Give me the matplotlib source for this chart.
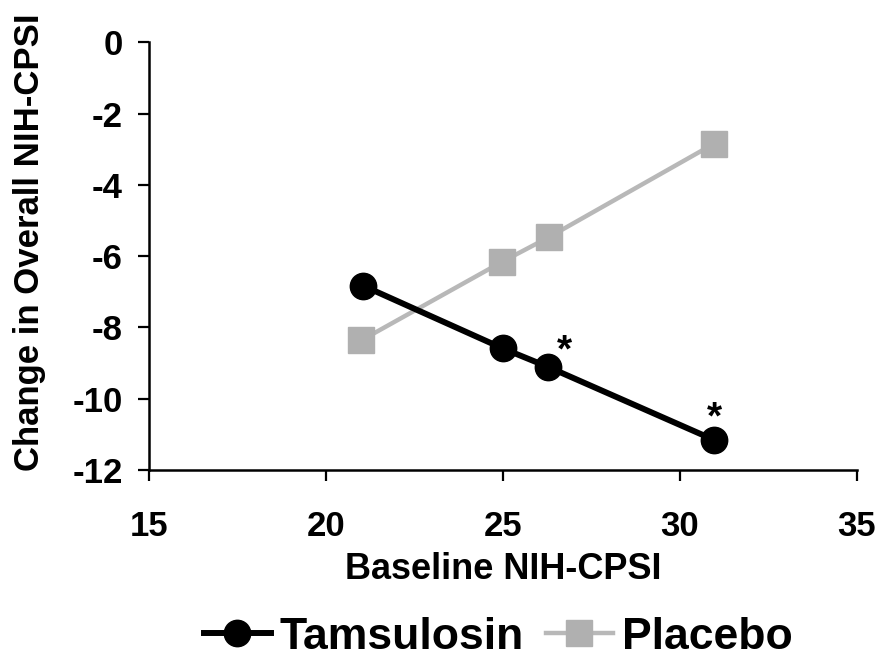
import matplotlib
matplotlib.use("Agg")
import matplotlib.pyplot as plt

plt.rcParams['font.family'] = ['Liberation Sans', 'DejaVu Sans']
plt.rcParams['font.weight'] = 'bold'

baseline_tams = [21.05, 25.0, 26.28, 30.95]
change_tams = [-6.83, -8.59, -9.11, -11.15]
baseline_plac = [21.0, 24.97, 26.29, 30.95]
change_plac = [-8.36, -6.16, -5.47, -2.85]
significant = [False, False, True, True]

x_ticks = [15, 20, 25, 30, 35]
y_ticks = [0, -2, -4, -6, -8, -10, -12]

fig = plt.figure(figsize=(8.77, 6.62), dpi=100)
ax = fig.add_axes([0.1699, 0.29, 0.8073, 0.646])

ax.plot(baseline_tams, change_tams, color='black', lw=4.3, marker='o',
        markersize=19, markerfacecolor='black', markeredgecolor='black',
        label='Tamsulosin', zorder=3)
ax.plot(baseline_plac, change_plac, color='#b8b8b8', lw=3.2, marker='s',
        markersize=19, markerfacecolor='#b0b0b0', markeredgecolor='#b0b0b0',
        label='Placebo', zorder=2)

offsets = [(0, 0), (0, 0), (11.5, 11), (0.5, 15)]
for xv, yv, sig, off in zip(baseline_tams, change_tams, significant, offsets):
    if sig:
        ax.annotate('*', (xv, yv), xytext=off, textcoords='offset points',
                    ha='center', va='center', fontsize=28, fontweight='bold')

ax.set_xlim(15, 35)
ax.set_ylim(-12, 0)
ax.set_xticks(x_ticks)
ax.set_yticks(y_ticks)
ax.set_xticklabels([str(t) for t in x_ticks], fontsize=25, fontweight='bold')
ax.set_yticklabels([str(t) for t in y_ticks], fontsize=25, fontweight='bold')
ax.tick_params(axis='both', direction='out', length=8, width=1.6)
ax.tick_params(axis='y', pad=11)
ax.tick_params(axis='x', pad=21)
for s in ['top', 'right']:
    ax.spines[s].set_visible(False)
for s in ['left', 'bottom']:
    ax.spines[s].set_linewidth(1.8)

ax.set_xlabel('Baseline NIH-CPSI', fontsize=26, fontweight='bold', labelpad=6)
ax.set_ylabel('Change in Overall NIH-CPSI', fontsize=25, fontweight='bold')
ax.yaxis.set_label_coords(-0.145, 0.533)

leg = fig.legend(loc='center', bbox_to_anchor=(0.568, 0.037), ncol=2, frameon=False,
                 handlelength=1.5, handletextpad=0.2, columnspacing=0.5,
                 prop={'weight': 'bold', 'size': 32})

fig.savefig('out.png', dpi=100)
